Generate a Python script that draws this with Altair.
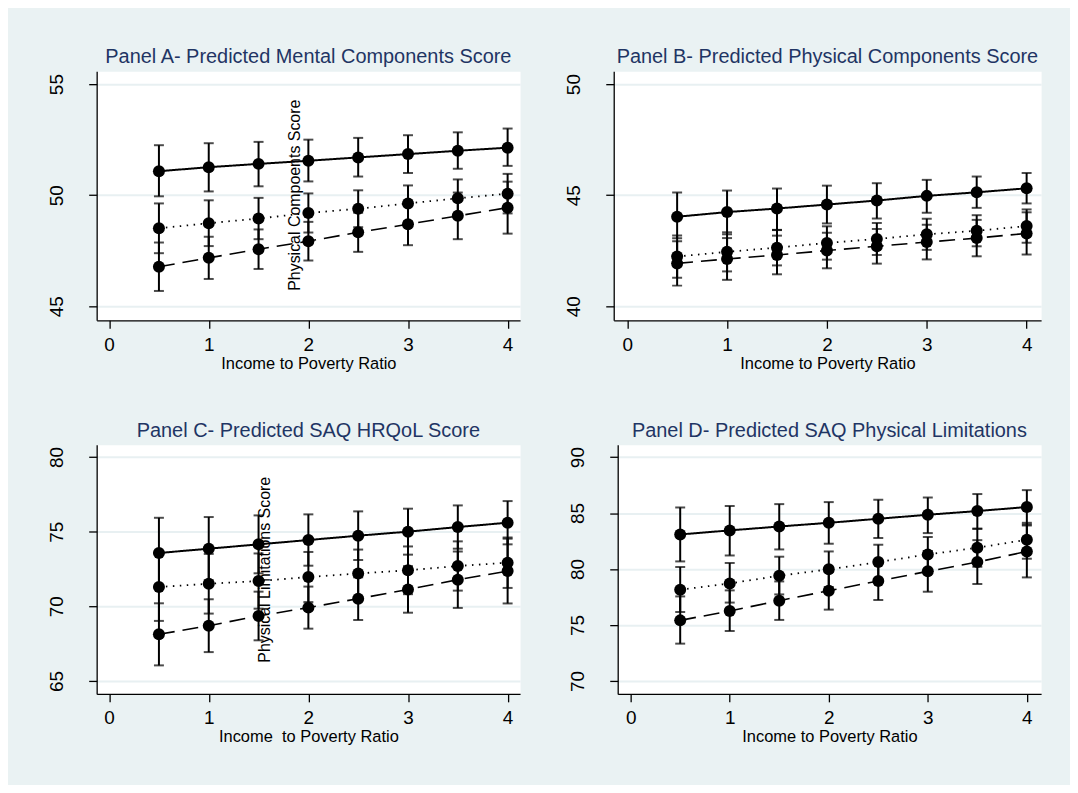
import altair as alt
import pandas as pd

FONT = "Liberation Sans"

x_vals = [0.5, 1.0, 1.5, 2.0, 2.5, 3.0, 3.5, 4.0]
series_names = ["solid", "dotted", "dashed"]

# Panel A - Mental Components Score
A_solid = [51.08, 51.26, 51.41, 51.55, 51.70, 51.85, 52.00, 52.14]
A_solid_lo = [49.95, 50.17, 50.40, 50.62, 50.84, 51.00, 51.19, 51.32]
A_solid_hi = [52.25, 52.34, 52.40, 52.50, 52.58, 52.70, 52.83, 53.00]
A_dot = [48.51, 48.74, 48.95, 49.20, 49.39, 49.63, 49.86, 50.07]
A_dot_lo = [47.39, 47.71, 48.02, 48.32, 48.56, 48.82, 49.01, 49.18]
A_dot_hi = [49.63, 49.77, 49.88, 50.08, 50.22, 50.44, 50.71, 50.96]
A_dash = [46.78, 47.18, 47.57, 47.93, 48.33, 48.69, 49.07, 49.44]
A_dash_lo = [45.69, 46.23, 46.68, 47.06, 47.45, 47.75, 48.02, 48.27]
A_dash_hi = [47.87, 48.13, 48.46, 48.80, 49.21, 49.63, 50.12, 50.61]

# Panel B - Physical Components Score
B_solid = [44.03, 44.24, 44.40, 44.58, 44.76, 44.97, 45.13, 45.31]
B_solid_lo = [43.06, 43.24, 43.43, 43.73, 43.95, 44.21, 44.43, 44.63]
B_solid_hi = [45.12, 45.21, 45.30, 45.43, 45.54, 45.69, 45.84, 46.00]
B_dot = [42.24, 42.45, 42.64, 42.85, 43.03, 43.24, 43.40, 43.61]
B_dot_lo = [41.29, 41.57, 41.84, 42.10, 42.31, 42.54, 42.70, 42.86]
B_dot_hi = [43.19, 43.33, 43.44, 43.60, 43.75, 43.94, 44.10, 44.36]
B_dash = [41.93, 42.13, 42.31, 42.51, 42.70, 42.89, 43.07, 43.28]
B_dash_lo = [40.93, 41.19, 41.44, 41.71, 41.92, 42.11, 42.25, 42.33]
B_dash_hi = [42.93, 43.07, 43.18, 43.31, 43.48, 43.67, 43.89, 44.23]

# Panel C - SAQ HRQoL Score
C_solid = [73.57, 73.86, 74.15, 74.44, 74.73, 75.00, 75.31, 75.60]
C_solid_lo = [71.21, 71.74, 72.21, 72.72, 73.10, 73.46, 73.86, 74.15]
C_solid_hi = [75.93, 75.98, 76.09, 76.16, 76.36, 76.54, 76.76, 77.05]
C_dot = [71.29, 71.51, 71.69, 71.96, 72.20, 72.41, 72.70, 72.92]
C_dot_lo = [69.02, 69.51, 69.84, 70.28, 70.60, 70.81, 71.05, 71.23]
C_dot_hi = [73.56, 73.51, 73.54, 73.64, 73.80, 74.01, 74.35, 74.61]
C_dash = [68.12, 68.70, 69.35, 69.91, 70.51, 71.13, 71.78, 72.36]
C_dash_lo = [66.04, 66.93, 67.72, 68.50, 69.08, 69.57, 69.89, 70.19]
C_dash_hi = [70.20, 70.47, 70.98, 71.32, 71.94, 72.69, 73.67, 74.53]

# Panel D - SAQ Physical Limitations
D_solid = [83.09, 83.45, 83.80, 84.13, 84.49, 84.85, 85.18, 85.54]
D_solid_lo = [80.68, 81.21, 81.75, 82.26, 82.77, 83.21, 83.60, 83.98]
D_solid_hi = [85.50, 85.63, 85.80, 85.98, 86.19, 86.39, 86.70, 87.05]
D_dot = [78.15, 78.71, 79.40, 79.97, 80.62, 81.30, 81.90, 82.62]
D_dot_lo = [76.16, 77.00, 77.73, 78.39, 79.07, 79.74, 80.20, 80.92]
D_dot_hi = [80.18, 80.54, 81.10, 81.57, 82.17, 82.86, 83.60, 84.13]
D_dash = [75.41, 76.25, 77.17, 78.06, 78.93, 79.79, 80.62, 81.57]
D_dash_lo = [73.33, 74.46, 75.45, 76.37, 77.23, 77.97, 78.66, 79.25]
D_dash_hi = [77.55, 78.09, 78.89, 79.75, 80.63, 81.61, 82.58, 83.89]

titles = [
    "Panel A- Predicted Mental Components Score",
    "Panel B- Predicted Physical Components Score",
    "Panel C- Predicted SAQ HRQoL Score",
    "Panel D- Predicted SAQ Physical Limitations",
]
x_titles = [
    "Income to Poverty Ratio",
    "Income to Poverty Ratio",
    "Income\u00a0 to Poverty Ratio",
    "Income to Poverty Ratio",
]
y_ticks = [[45, 50, 55], [40, 45, 50], [65, 70, 75, 80], [70, 75, 80, 85, 90]]
x_ticks = [0, 1, 2, 3, 4]

# stray (misplaced) axis titles inside panels A and C
stray_texts = ["Physical Compoents Score", "Physical Limitations Score"]
stray_x = [1.87, 1.56]
stray_y = [50.0, 72.45]

panel_data = [
    [(A_solid, A_solid_lo, A_solid_hi), (A_dot, A_dot_lo, A_dot_hi), (A_dash, A_dash_lo, A_dash_hi)],
    [(B_solid, B_solid_lo, B_solid_hi), (B_dot, B_dot_lo, B_dot_hi), (B_dash, B_dash_lo, B_dash_hi)],
    [(C_solid, C_solid_lo, C_solid_hi), (C_dot, C_dot_lo, C_dot_hi), (C_dash, C_dash_lo, C_dash_hi)],
    [(D_solid, D_solid_lo, D_solid_hi), (D_dot, D_dot_lo, D_dot_hi), (D_dash, D_dash_lo, D_dash_hi)],
]

y_domains = [[44.37, 55.58], [39.37, 50.58], [64.13, 80.82], [68.84, 91.1]]
x_domains = [[-0.125, 4.125], [-0.135, 4.145], [-0.125, 4.125], [-0.131, 4.144]]
widths = [425, 429, 425, 425]
HEIGHT = 250
TITLE_COLOR = "#1F3564"


def make_panel(i):
    rows = []
    for name, (ys, los, his) in zip(series_names, panel_data[i]):
        for xv, yv, lo, hi in zip(x_vals, ys, los, his):
            rows.append({"x": xv, "y": yv, "lo": lo, "hi": hi, "series": name})
    df = pd.DataFrame(rows)
    base = alt.Chart(df)

    xscale = alt.Scale(domain=x_domains[i], nice=False, zero=False)
    yscale = alt.Scale(domain=y_domains[i], nice=False, zero=False)
    xaxis = alt.Axis(values=x_ticks, title=x_titles[i], grid=False, format="d",
                     labelFlush=False)
    yaxis = alt.Axis(values=y_ticks[i], title=None, grid=True, format="d")

    def X():
        return alt.X("x:Q", scale=xscale, axis=xaxis)

    def Y(field):
        return alt.Y(f"{field}:Q", scale=yscale, axis=yaxis)

    lines = base.mark_line(color="black").encode(
        x=X(), y=Y("y"),
        detail="series:N",
        strokeDash=alt.StrokeDash("series:N", legend=None,
                                  scale=alt.Scale(domain=series_names,
                                                  range=[[1, 0], [1.5, 5.5], [16, 8]])),
        strokeWidth=alt.StrokeWidth("series:N", legend=None,
                                    scale=alt.Scale(domain=series_names, range=[2, 1.6, 2])),
    )
    rules = base.mark_rule(color="black", strokeWidth=2).encode(
        x=X(), y=Y("lo"), y2="hi:Q")
    cap_lo = base.mark_tick(color="black", thickness=2, size=10, orient="horizontal").encode(
        x=X(), y=Y("lo"))
    cap_hi = base.mark_tick(color="black", thickness=2, size=10, orient="horizontal").encode(
        x=X(), y=Y("hi"))
    points = base.mark_circle(color="black", size=145, opacity=1).encode(x=X(), y=Y("y"))

    layers = [lines, rules, cap_lo, cap_hi, points]
    if i in (0, 2):
        k = 0 if i == 0 else 1
        tdf = pd.DataFrame({"x": [stray_x[k]], "y": [stray_y[k]], "t": [stray_texts[k]]})
        txt = alt.Chart(tdf).mark_text(angle=270, font=FONT, fontSize=16, color="black",
                                       align="center", baseline="middle").encode(
            x=X(), y=Y("y"), text="t:N")
        layers.append(txt)

    return alt.layer(*layers).properties(
        width=widths[i], height=HEIGHT,
        title=alt.TitleParams(titles[i], font=FONT, fontSize=20, fontWeight="normal",
                              color=TITLE_COLOR, anchor="middle", offset=-12,
                              baseline="alphabetic"),
    )


row1 = alt.hconcat(make_panel(0), make_panel(1), spacing=43)
row2 = alt.hconcat(make_panel(2), make_panel(3), spacing=47)
chart = alt.vconcat(row1, row2, spacing=48).configure(
    background="#EAF2F3",
    padding={"left": 39, "top": 37, "right": 28, "bottom": 38},
).configure_view(fill="white", stroke="transparent").configure_axis(
    domainColor="black", domainWidth=1.3, tickColor="black", tickWidth=1.3, tickSize=8,
    labelFont=FONT, labelFontSize=19, labelColor="black",
    titleFont=FONT, titleFontSize=16.5, titleFontWeight="normal", titleColor="black",
    gridColor="#E8F0F2", gridWidth=2,
).configure_axisX(labelPadding=7, titlePadding=1).configure_axisY(
    labelAngle=270, labelAlign="center", labelBaseline="alphabetic", labelPadding=26,
    minExtent=49, maxExtent=49,
)

chart.save("out.html", embed_options={"renderer": "svg", "actions": False})
